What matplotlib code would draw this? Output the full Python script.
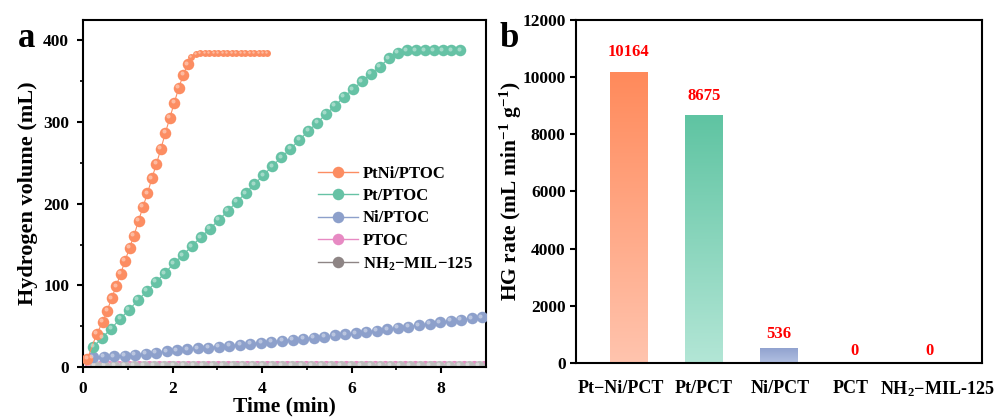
import numpy as np
import matplotlib
matplotlib.use('Agg')
import matplotlib.pyplot as plt
from matplotlib import transforms
from matplotlib.lines import Line2D
from matplotlib.colors import LinearSegmentedColormap

plt.rcParams['font.family'] = ['Liberation Serif', 'DejaVu Serif']
plt.rcParams['font.weight'] = 'bold'
plt.rcParams['axes.labelweight'] = 'bold'
plt.rcParams['mathtext.fontset'] = 'custom'
plt.rcParams['mathtext.rm'] = 'Liberation Serif:bold'
plt.rcParams['mathtext.bf'] = 'Liberation Serif:bold'
plt.rcParams['mathtext.default'] = 'rm'

# ---- panel a: hydrogen volume vs time ----
ptni_t = [0.1, 0.31, 0.44, 0.54, 0.64, 0.74, 0.84, 0.94, 1.04, 1.14, 1.24, 1.34,
          1.44, 1.54, 1.64, 1.74, 1.84, 1.94, 2.04, 2.14, 2.24, 2.34]
ptni_v = [10, 41, 55, 69, 84, 99, 114, 130, 146, 161, 179, 196,
          213, 231, 249, 267, 287, 305, 324, 342, 358, 371]
ptni_flat_t = [2.42, 2.52, 2.62, 2.72, 2.82, 2.92, 3.02, 3.12, 3.22, 3.32, 3.42, 3.52,
               3.62, 3.72, 3.82, 3.92, 4.02, 4.12]
ptni_flat_v = [380, 384, 385, 385, 385, 385, 385, 385, 385, 385, 385, 385,
               385, 385, 385, 385, 385, 385]

pt_t = [0.23, 0.43, 0.63, 0.83, 1.03, 1.23, 1.43, 1.63, 1.83, 2.03, 2.23, 2.43, 2.63, 2.83,
        3.03, 3.23, 3.43, 3.63, 3.83, 4.03, 4.23, 4.43, 4.63, 4.83, 5.03, 5.23, 5.43, 5.63,
        5.83, 6.03, 6.23, 6.43, 6.63, 6.83, 7.03, 7.23, 7.43, 7.63, 7.83, 8.03, 8.23, 8.43]
pt_v = [24.5, 36, 47, 59, 70, 82, 93, 104, 115, 127, 137, 148, 159, 169,
        180, 191, 202, 213, 224, 235, 246, 257, 267, 278, 289, 299, 310, 320,
        331, 340, 350, 359, 368, 378, 385, 388, 388, 388, 388, 388, 388, 388]

ni_t = [0.22, 0.46, 0.69, 0.93, 1.16, 1.40, 1.63, 1.87, 2.10, 2.33, 2.57, 2.80, 3.04,
        3.27, 3.51, 3.74, 3.98, 4.21, 4.45, 4.68, 4.92, 5.15, 5.39, 5.62, 5.86, 6.09,
        6.33, 6.56, 6.80, 7.03, 7.27, 7.50, 7.74, 7.97, 8.21, 8.44, 8.68, 8.91]
ni_v = [12, 12.5, 13.2, 14, 15, 16.2, 17.5, 19, 20.5, 21.6, 22.7, 23.8, 25,
        26.1, 27.2, 28.4, 29.7, 31, 32.2, 33.4, 34.6, 35.9, 37.2, 38.6, 40, 41.4,
        43, 44.6, 46.2, 47.8, 49.5, 51.2, 53, 54.8, 56.5, 58, 59.5, 61]

ptoc_t = [0.15, 0.37, 0.59, 0.81, 1.03, 1.25, 1.47, 1.69, 1.91, 2.13, 2.35, 2.57, 2.79,
          3.01, 3.23, 3.45, 3.67, 3.89, 4.11, 4.33, 4.55, 4.77, 4.99, 5.21, 5.43, 5.65,
          5.87, 6.09, 6.31, 6.53, 6.75, 6.97, 7.19, 7.41, 7.63, 7.85, 8.07, 8.29, 8.51,
          8.73, 8.95]
ptoc_v = [1.6, 1.6, 1.5, 1.6, 1.7, 1.6, 1.5, 1.6, 1.6, 1.7, 1.6, 1.6, 1.5,
          1.6, 1.7, 1.6, 1.6, 1.5, 1.6, 1.6, 1.7, 1.6, 1.5, 1.6, 1.6, 1.7,
          1.6, 1.6, 1.5, 1.6, 1.7, 1.6, 1.6, 1.5, 1.6, 1.6, 1.7, 1.6, 1.6,
          1.5, 1.6]
mil_t = [0.26, 0.48, 0.70, 0.92, 1.14, 1.36, 1.58, 1.80, 2.02, 2.24, 2.46, 2.68, 2.90,
         3.12, 3.34, 3.56, 3.78, 4.00, 4.22, 4.44, 4.66, 4.88, 5.10, 5.32, 5.54, 5.76,
         5.98, 6.20, 6.42, 6.64, 6.86, 7.08, 7.30, 7.52, 7.74, 7.96, 8.18, 8.40, 8.62,
         8.84]
mil_v = [1.4, 1.5, 1.4, 1.4, 1.5, 1.4, 1.4, 1.5, 1.4, 1.4, 1.5, 1.4, 1.4,
         1.5, 1.4, 1.4, 1.5, 1.4, 1.4, 1.5, 1.4, 1.4, 1.5, 1.4, 1.4, 1.5,
         1.4, 1.4, 1.5, 1.4, 1.4, 1.5, 1.4, 1.4, 1.5, 1.4, 1.4, 1.5, 1.4,
         1.4]

leg_labels = ['PtNi/PTOC', 'Pt/PTOC', 'Ni/PTOC', 'PTOC', r'NH$_2$$-$MIL$-$125']
c_orange, c_green, c_blue, c_pink, c_grey = '#FC8D62', '#66C2A5', '#8DA0CB', '#E78AC3', '#A59C9C'

# ---- panel b: HG rate ----
samples = ['Pt\u2212Ni/PCT', 'Pt/PCT', 'Ni/PCT', 'PCT', r'NH$_2$$-$MIL-125']
rates = [10164, 8675, 536, 0, 0]
label_off = [9, 8, 4, 3, 3]
tick_shift = [-8, 0, 1, -4, 8]   # px nudges of the category labels
bar_grad = [('#FF8A5B', '#FFC4AE'), ('#5FC4A2', '#B3E6D6'), ('#8FA1CE', '#B2C0E2'),
            ('#ffffff', '#ffffff'), ('#ffffff', '#ffffff')]

fig = plt.figure(figsize=(9.95, 4.19), dpi=100)
ax1 = fig.add_axes([0.0834, 0.1241, 0.405, 0.828])
ax2 = fig.add_axes([0.5789, 0.1337, 0.408, 0.8186])


def balls(ax, t, v, c, ms, z=3):
    ax.plot(t, v, 'o', ms=ms, color=c, mec='none', zorder=z)
    hl = transforms.offset_copy(ax.transData, fig=fig, x=-ms * 0.14, y=ms * 0.14, units='points')
    ax.plot(t, v, 'o', ms=ms * 0.35, color='white', alpha=0.4, mec='none', transform=hl, zorder=z + 0.1)


ax1.plot(ptoc_t, ptoc_v, '-', color=c_pink, lw=0.8, zorder=2)
balls(ax1, ptoc_t, ptoc_v, c_pink, 8, 2)
ax1.plot(mil_t, mil_v, '-', color=c_grey, lw=0.8, zorder=2)
balls(ax1, mil_t, mil_v, '#BDBDBD', 8, 2.2)
ax1.plot(ni_t, ni_v, '-', color=c_blue, lw=0.8, zorder=3)
balls(ax1, ni_t, ni_v, c_blue, 8.3)
ax1.plot(pt_t, pt_v, '-', color=c_green, lw=0.8, zorder=3)
balls(ax1, pt_t, pt_v, c_green, 8.3)
ax1.plot(ptni_t + ptni_flat_t, ptni_v + ptni_flat_v, '-', color=c_orange, lw=0.8, zorder=3)
balls(ax1, ptni_t, ptni_v, c_orange, 8.3)
balls(ax1, ptni_flat_t, ptni_flat_v, c_orange, 5)

ax1.set_xlim(0, 9)
ax1.set_ylim(0, 425)
ax1.set_xticks([0, 2, 4, 6, 8])
ax1.set_xticks([1, 3, 5, 7], minor=True)
ax1.set_yticks([0, 100, 200, 300, 400])
ax1.set_yticks([50, 150, 250, 350], minor=True)
ax1.set_xlabel('Time (min)', fontsize=15.5, labelpad=0)
ax1.set_ylabel('Hydrogen volume (mL)', fontsize=16, labelpad=4)

handles = [Line2D([], [], color=c, lw=1, marker='o', ms=8.3, mec='none')
           for c in [c_orange, c_green, c_blue, c_pink, '#8E8585']]
ax1.legend(handles, leg_labels, loc='upper left', bbox_to_anchor=(0.582, 0.58), frameon=False,
           fontsize=12, handlelength=2.4, handletextpad=0.3, labelspacing=0.38,
           borderaxespad=0, borderpad=0)

x = np.arange(len(samples))
bars = ax2.bar(x, rates, width=0.5, color='none', edgecolor='none')
for b, (ctop, cbot) in zip(bars, bar_grad):
    h = b.get_height()
    if h <= 0:
        continue
    cmap = LinearSegmentedColormap.from_list('g', [cbot, ctop])
    im = ax2.imshow(np.linspace(0, 1, 256).reshape(-1, 1), cmap=cmap, origin='lower', aspect='auto',
                    extent=[b.get_x(), b.get_x() + b.get_width(), 0, h], zorder=2)
    im.set_clip_path(b)
for xi, r, off in zip(x, rates, label_off):
    ax2.annotate(str(r), (xi, r), xytext=(0, off), textcoords='offset points', ha='center',
                 va='bottom', color='red', fontsize=12, fontweight='bold')

ax2.set_xlim(-0.7, 4.7)
ax2.set_ylim(0, 12000)
ax2.set_yticks(range(0, 12001, 2000))
ax2.set_xticks(x)
ax2.set_xticklabels(samples, fontsize=13)
ax2.set_ylabel(r'HG rate (mL min$^{-1}$ g$^{-1}$)', fontsize=15.5, labelpad=-1)

for ax in (ax1, ax2):
    for s in ax.spines.values():
        s.set_linewidth(1.5)
    ax.tick_params(which='major', direction='out', length=4, width=1.5, labelsize=12.5)
    ax.tick_params(which='minor', direction='out', length=2.5, width=1.2)
ax1.tick_params(axis='x', which='major', pad=6)
ax1.tick_params(axis='y', which='major', pad=6)
ax2.tick_params(axis='x', length=0, labelsize=13, pad=12)

for lab, dx in zip(ax2.get_xticklabels(), tick_shift):
    lab.set_transform(lab.get_transform() + transforms.ScaledTranslation(dx / 100, 0, fig.dpi_scale_trans))

fig.text(0.018, 0.888, 'a', fontsize=25, fontweight='bold', va='baseline')
fig.text(0.502, 0.888, 'b', fontsize=25, fontweight='bold', va='baseline')

fig.savefig('out.png', dpi=100)
